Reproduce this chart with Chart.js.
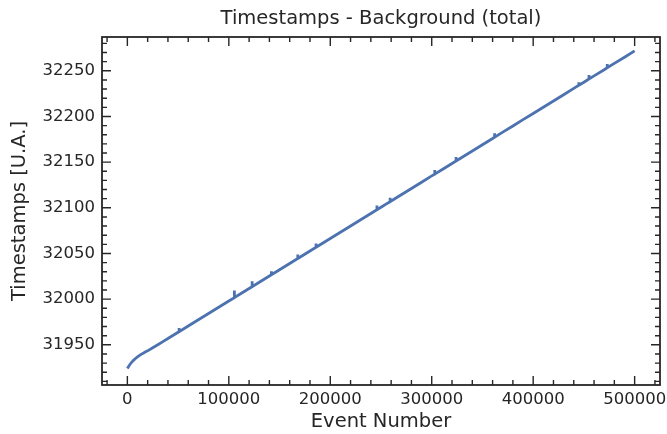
<!DOCTYPE html>
<html>
<head>
<meta charset="utf-8">
<script src="https://cdn.jsdelivr.net/npm/chart.js@4.4.1/dist/chart.umd.min.js"></script>
<style>
  html, body { margin: 0; padding: 0; background: #fff; }
  #wrap { width: 667px; height: 434px; }
</style>
</head>
<body>
<div id="wrap"><canvas id="ts" width="667" height="434"></canvas></div>
<script>
// Timestamps vs event number, background sample
const eventNumbers = [
  0, 2000, 4000, 6000, 8000, 10000, 12000, 14000, 16000, 18000, 20000,
  25000, 30000, 35000, 40000, 50000, 60000, 70000, 80000, 90000, 100000,
  110000, 120000, 130000, 140000, 150000, 160000, 170000, 180000, 190000, 200000,
  210000, 220000, 230000, 240000, 250000, 260000, 270000, 280000, 290000, 300000,
  310000, 320000, 330000, 340000, 350000, 360000, 370000, 380000, 390000, 400000,
  410000, 420000, 430000, 440000, 450000, 460000, 470000, 480000, 490000, 500000
];
const timestamps = [
  31924.0, 31927.6, 31930.6, 31933.0, 31935.0, 31936.8, 31938.4, 31939.8, 31941.1, 31942.3, 31943.4,
  31946.7, 31950.1, 31953.5, 31956.9, 31963.7, 31970.6, 31977.4, 31984.3, 31991.1, 31998.0,
  32004.8, 32011.6, 32018.5, 32025.3, 32032.2, 32039.0, 32045.9, 32052.7, 32059.6, 32066.4,
  32073.2, 32080.1, 32086.9, 32093.8, 32100.6, 32107.5, 32114.3, 32121.2, 32128.0, 32134.9,
  32141.7, 32148.5, 32155.4, 32162.2, 32169.1, 32175.9, 32182.8, 32189.6, 32196.5, 32203.3,
  32210.1, 32217.0, 32223.8, 32230.7, 32237.5, 32244.4, 32251.2, 32258.1, 32264.9, 32271.8
];

// isolated late timestamps (short upward jumps)
const spikeEvents = [51000, 105500, 123000, 142000, 168000, 186000, 246000, 259000, 303000, 324000, 362000, 445000, 455000, 473000];
const spikeBase   = [31964.4, 32001.7, 32013.7, 32026.7, 32044.5, 32056.8, 32097.9, 32106.8, 32136.9, 32151.3, 32177.3, 32234.1, 32241.0, 32253.3];
const spikeTop    = [31968.5, 32009.5, 32019.5, 32030.5, 32049.0, 32061.0, 32102.5, 32111.0, 32141.5, 32155.5, 32181.5, 32237.5, 32245.5, 32257.5];

const xTickValues = [0, 100000, 200000, 300000, 400000, 500000];
const yTickValues = [31950, 32000, 32050, 32100, 32150, 32200, 32250];

const points = eventNumbers.map((e, i) => ({ x: e, y: timestamps[i] }));
spikeEvents.forEach((e, i) => {
  points.push({ x: e, y: spikeBase[i] }, { x: e, y: spikeTop[i] }, { x: e, y: spikeBase[i] });
});
points.sort((a, b) => a.x - b.x);

const INK = '#262626';

// frame + inward major/minor ticks on all four sides
const frameTicks = {
  id: 'frameTicks',
  afterDatasetsDraw(chart) {
    const { ctx, chartArea: a, scales: { x, y } } = chart;
    ctx.save();
    ctx.strokeStyle = INK;
    ctx.lineWidth = 1.4;
    ctx.beginPath();
    const tick = (x0, y0, x1, y1) => { ctx.moveTo(x0, y0); ctx.lineTo(x1, y1); };
    for (let v = -20000; v <= 520000; v += 20000) {
      const len = v % 100000 === 0 ? 9 : 5;
      const px = x.getPixelForValue(v);
      if (px < a.left || px > a.right) continue;
      tick(px, a.bottom, px, a.bottom - len);
      tick(px, a.top, px, a.top + len);
    }
    for (let v = 31910; v <= 32290; v += 10) {
      const len = v % 50 === 0 ? 9 : 5;
      const py = y.getPixelForValue(v);
      if (py < a.top || py > a.bottom) continue;
      tick(a.left, py, a.left + len, py);
      tick(a.right, py, a.right - len, py);
    }
    ctx.stroke();
    ctx.lineWidth = 1.8;
    ctx.strokeRect(a.left, a.top, a.right - a.left, a.bottom - a.top);
    ctx.restore();
  }
};

const tickFont = { family: 'DejaVu Sans', size: 16.5 };
const labelFont = { family: 'DejaVu Sans', size: 19.5 };

new Chart(document.getElementById('ts'), {
  type: 'line',
  data: {
    datasets: [{
      data: points,
      borderColor: '#4C72B0',
      borderWidth: 2.8,
      pointRadius: 0,
      tension: 0,
      fill: false
    }]
  },
  options: {
    responsive: false,
    animation: false,
    devicePixelRatio: 1,
    layout: { padding: { left: 0, right: 7, top: 0, bottom: 0 } },
    plugins: {
      legend: { display: false },
      tooltip: { enabled: false },
      title: {
        display: true,
        fullSize: false,
        text: 'Timestamps - Background (total)',
        color: INK,
        font: { family: 'DejaVu Sans', size: 19.5, weight: 'normal' },
        padding: { top: 7, bottom: 6.6 }
      }
    },
    scales: {
      x: {
        type: 'linear',
        min: -25000,
        max: 525000,
        afterBuildTicks: s => { s.ticks = xTickValues.map(v => ({ value: v })); },
        afterFit: s => { s.height = 49; s.paddingLeft = 0; s.paddingRight = 0; },
        grid: { display: false, drawTicks: false },
        border: { display: false },
        ticks: { color: INK, font: tickFont, padding: 5, maxRotation: 0, callback: v => String(v) },
        title: { display: true, text: 'Event Number', color: INK, font: labelFont, padding: { top: 0, bottom: 0 } }
      },
      y: {
        type: 'linear',
        min: 31906,
        max: 32287,
        afterBuildTicks: s => { s.ticks = yTickValues.map(v => ({ value: v })); },
        afterFit: s => { s.width = 102; s.paddingTop = 0; s.paddingBottom = 0; },
        grid: { display: false, drawTicks: false },
        border: { display: false },
        ticks: { color: INK, font: tickFont, padding: 7, callback: v => String(v) },
        title: { display: true, text: 'Timestamps [U.A.]', color: INK, font: labelFont, padding: { top: 8, bottom: 0 } }
      }
    }
  },
  plugins: [frameTicks]
});
</script>
</body>
</html>
